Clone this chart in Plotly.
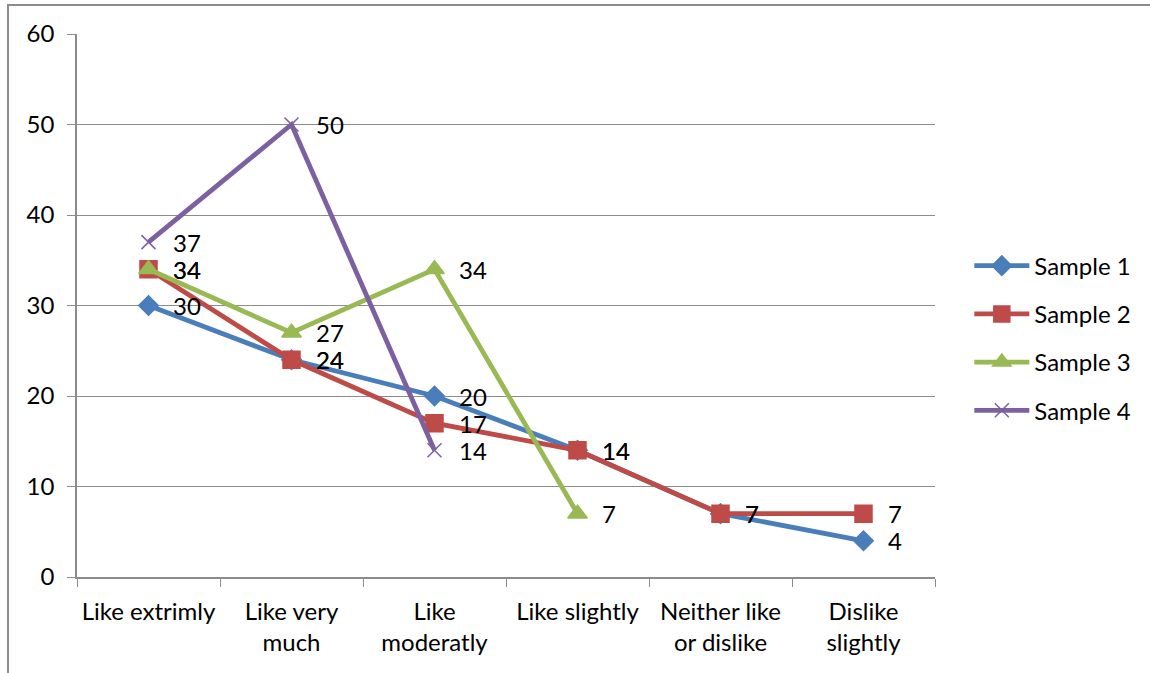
import plotly.graph_objects as go

categories = ["Like extrimly", "Like very<br>much", "Like<br>moderatly",
              "Like slightly", "Neither like<br>or dislike", "Dislike<br>slightly"]

sample1 = [30, 24, 20, 14, 7, 4]
sample2 = [34, 24, 17, 14, 7, 7]
sample3 = [34, 27, 34, 7]
sample4 = [37, 50, 14]

series = [
    ("Sample 1", sample1, "#4A7EBB", "diamond", 15),
    ("Sample 2", sample2, "#BE4B48", "square", 17),
    ("Sample 3", sample3, "#98B954", "triangle-up", 17),
    ("Sample 4", sample4, "#7D60A0", "x-thin-open", 14),
]

FONT = "Lato, Carlito, Calibri, sans-serif"
FS = 24
GRID = "#8c8c8c"

fig = go.Figure()
annotations = []
for name, vals, color, symbol, size in series:
    xs = categories[:len(vals)]
    fig.add_trace(go.Scatter(
        x=xs, y=vals, name=name, legendgroup=name,
        mode="lines+markers",
        line=dict(color=color, width=4.8),
        marker=dict(symbol=symbol, size=size, color=color,
                    line=dict(color=color, width=1.5)),
    ))
    # value labels to the right of each point
    for xv, yv in zip(xs, vals):
        annotations.append(dict(
            x=xv, y=yv, xref="x", yref="y", text=str(yv), showarrow=False,
            xanchor="left", yanchor="middle", xshift=22,
            font=dict(family=FONT, size=FS, color="#000000"),
        ))

fig.update_layout(
    width=1150, height=673,
    margin=dict(l=77, r=215, t=34, b=96, autoexpand=False),
    paper_bgcolor="white", plot_bgcolor="white",
    font=dict(family=FONT, size=FS, color="#000000"),
    showlegend=True,
    legend=dict(x=1.04, y=0.44, xanchor="left", yanchor="middle",
                font=dict(family=FONT, size=FS),
                tracegroupgap=14, itemwidth=55, bgcolor="rgba(0,0,0,0)"),
    annotations=annotations,
    shapes=[dict(type="rect", xref="paper", yref="paper",
                 x0=-0.0804, x1=1.3, y0=-0.3, y1=1.0534,
                 line=dict(color="#8c8c8c", width=2))],
)

fig.update_xaxes(
    type="category", categoryorder="array", categoryarray=categories,
    range=[-0.5, 5.5], showgrid=False, automargin=False, tickangle=0,
    showline=True, linecolor=GRID, linewidth=1.5,
    ticks="outside", tickson="boundaries", ticklen=8, tickcolor=GRID,
    tickfont=dict(family=FONT, size=FS), ticklabelstandoff=12,
)
fig.update_yaxes(
    range=[0, 60], dtick=10, showgrid=True, gridcolor=GRID, gridwidth=1.2,
    showline=True, linecolor=GRID, linewidth=1.5, zeroline=False,
    automargin=False,
    ticks="outside", ticklen=8, tickcolor=GRID,
    tickfont=dict(family=FONT, size=FS), ticklabelstandoff=8,
)

fig.write_html("out.html")
